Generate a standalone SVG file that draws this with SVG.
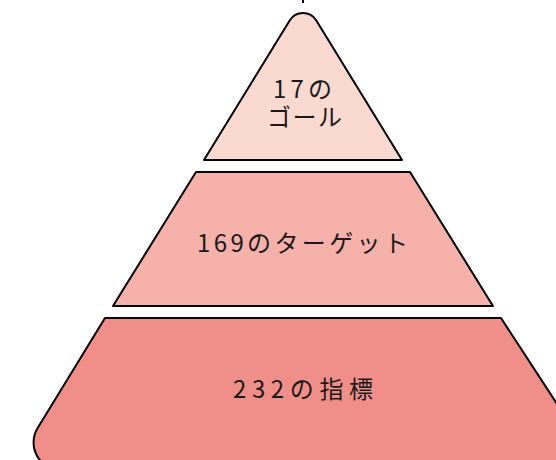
<svg xmlns="http://www.w3.org/2000/svg" width="556" height="460" viewBox="0 0 556 460">
<style>
.tier{stroke:#000;stroke-width:2;stroke-linejoin:round}
.lbl{font-family:"Noto Sans CJK JP","Noto Sans",sans-serif;font-size:24px;fill:#1a1a1a;text-anchor:middle}
</style>
<rect width="556" height="460" fill="#fff"/>
<g id="mark"><path d="M303 0 L303 3" stroke="#000" stroke-width="2"/></g>
<g id="tier-goals">
<path class="tier" fill="#fad9d0" d="M204 160 L289.7 20.4 A15.6 15.6 0 0 1 316.3 20.4 L402 160 Z"/>
<text class="lbl" x="302.5" y="98" textLength="59" lengthAdjust="spacing">17の</text>
<text class="lbl" x="304.5" y="126" textLength="75" lengthAdjust="spacing">ゴール</text>
</g>
<g id="tier-targets">
<path class="tier" fill="#f5b1aa" d="M196 172 L410 172 L493 306 L113 306 Z"/>
<text class="lbl" x="302.5" y="252" textLength="211" lengthAdjust="spacing">169のターゲット</text>
</g>
<g id="tier-indicators">
<path class="tier" fill="#f08f89" d="M105 318 L501 318 L600 470 L61 470 A27.6 27.6 0 0 1 37.5 428.2 Z"/>
<text class="lbl" x="303" y="398" textLength="140" lengthAdjust="spacing">232の指標</text>
</g>
<g id="connectors"></g>
</svg>
